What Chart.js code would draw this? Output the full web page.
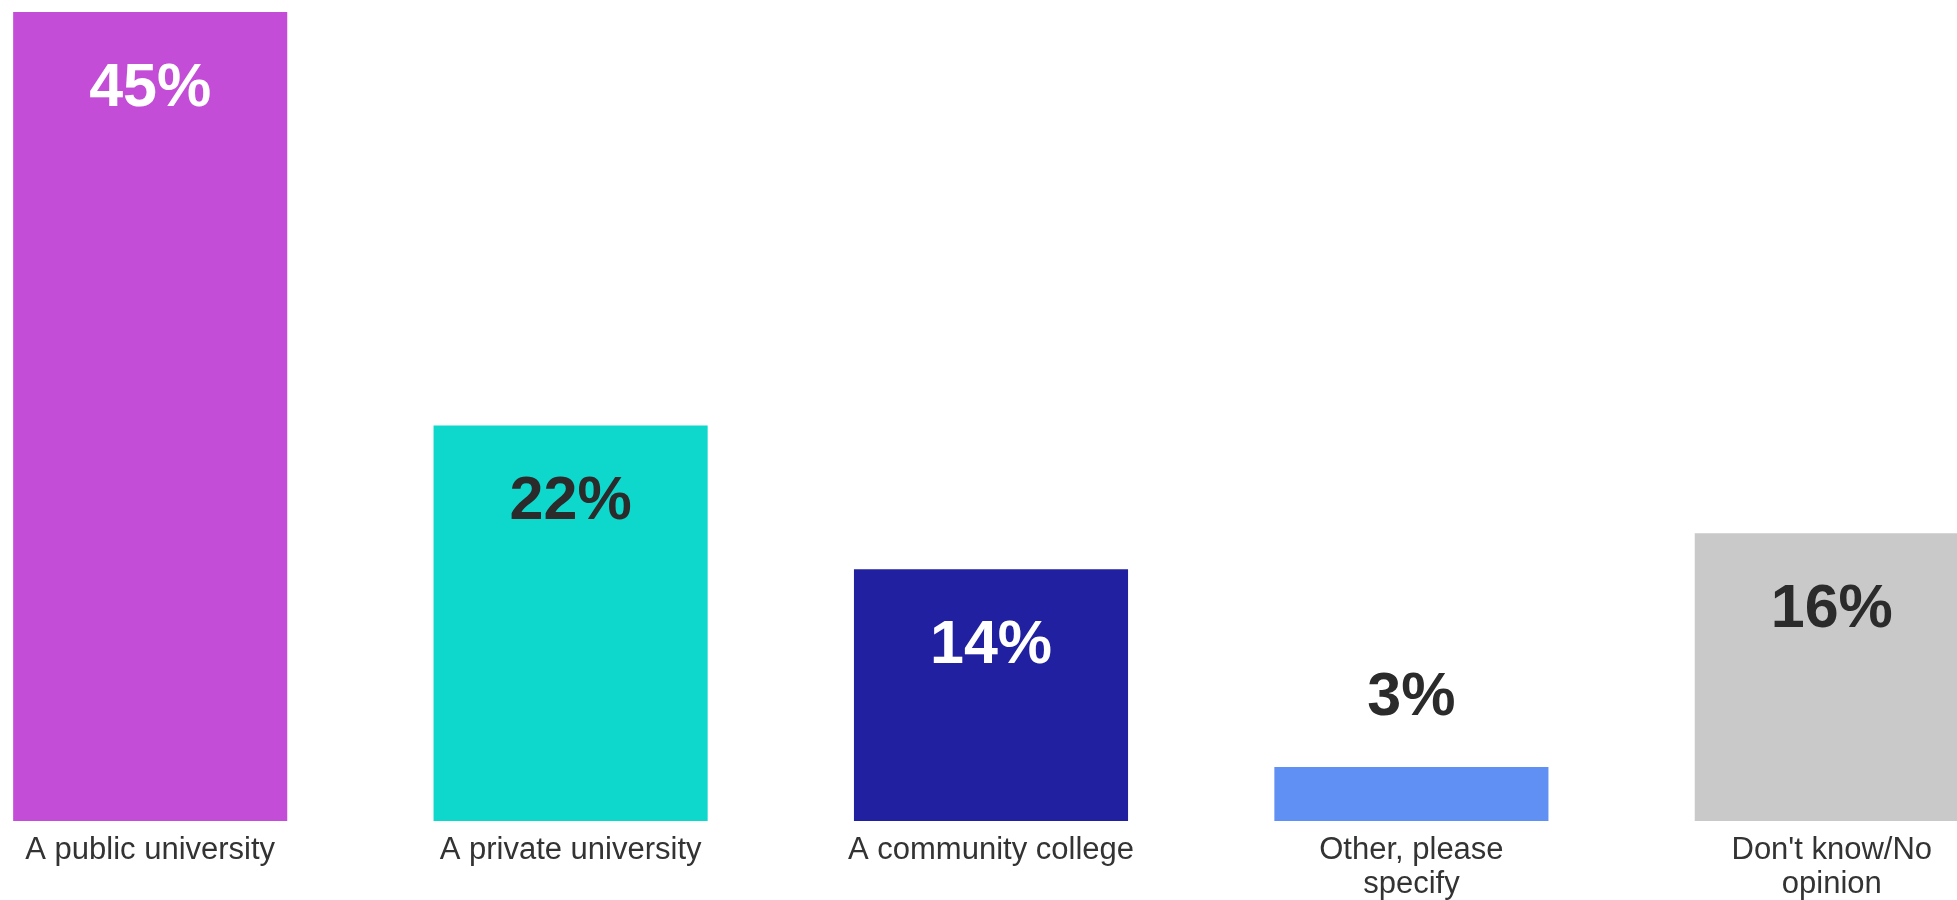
<!DOCTYPE html>
<html>
<head>
<meta charset="utf-8">
<title>Institution type</title>
<script src="https://cdn.jsdelivr.net/npm/chart.js@4/dist/chart.umd.min.js"></script>
<style>
  body { margin: 0; overflow: hidden; background: #fff; }
  #caja { position: absolute; left: -60px; top: 0; width: 2102px; height: 900px; }
</style>
</head>
<body>
<div id="caja"><canvas id="myChart"></canvas></div>
<script>
/* DATOS */
const categorias = ["A public university", "A private university", "A community college", ["Other, please", "specify"], ["Don't know/No", "opinion"]];
const valores = [45, 22, 14, 3, 16];
const etiquetas = ["45%", "22%", "14%", "3%", "16%"];
const coloresBarra = ["#C44DD8", "#0ED7CC", "#2020A0", "#6190F5", "#C9C9C9"];
const coloresEtiqueta = ["#FFFFFF", "#2B2B2B", "#FFFFFF", "#2B2B2B", "#2B2B2B"];

// PLUGIN PARA DIBUJAR LOS PORCENTAJES
const pluginEtiquetas = {
  id: "etiquetas",
  afterDatasetsDraw(chart) {
    const ctx = chart.ctx;
    const meta = chart.getDatasetMeta(0);
    ctx.save();
    ctx.font = "bold 61px 'Liberation Sans', Arial, sans-serif";
    ctx.textAlign = "center";
    ctx.textBaseline = "middle";
    meta.data.forEach((barra, i) => {
      const alto = barra.base - barra.y;
      let y;
      if (alto > 120) {
        y = barra.y + 77;
        ctx.fillStyle = coloresEtiqueta[i];
      } else {
        y = barra.y - 69;
        ctx.fillStyle = "#2B2B2B";
      }
      ctx.fillText(etiquetas[i], barra.x, y);
    });
    ctx.restore();
  }
};

const chartDOM = document.getElementById("myChart");
const grafico = new Chart(chartDOM, {
  type: "bar",
  data: {
    labels: categorias,
    datasets: [{
      data: valores,
      backgroundColor: coloresBarra,
      borderWidth: 0,
      categoryPercentage: 1,
      barPercentage: 0.652
    }]
  },
  options: {
    responsive: true,
    maintainAspectRatio: false,
    animation: false,
    layout: { padding: { top: 12, left: 0, right: 0, bottom: 0 } },
    plugins: {
      legend: { display: false },
      tooltip: { enabled: false }
    },
    scales: {
      x: {
        grid: { display: false },
        border: { display: false },
        ticks: {
          color: "#333333",
          padding: 5,
          maxRotation: 0,
          autoSkip: false,
          font: { family: "'Liberation Sans', Arial, sans-serif", size: 31, lineHeight: 1.08 }
        },
        afterFit(scale) { scale.height = 79; }
      },
      y: {
        display: false,
        min: 0,
        max: 45
      }
    }
  },
  plugins: [pluginEtiquetas]
});
</script>
</body>
</html>
